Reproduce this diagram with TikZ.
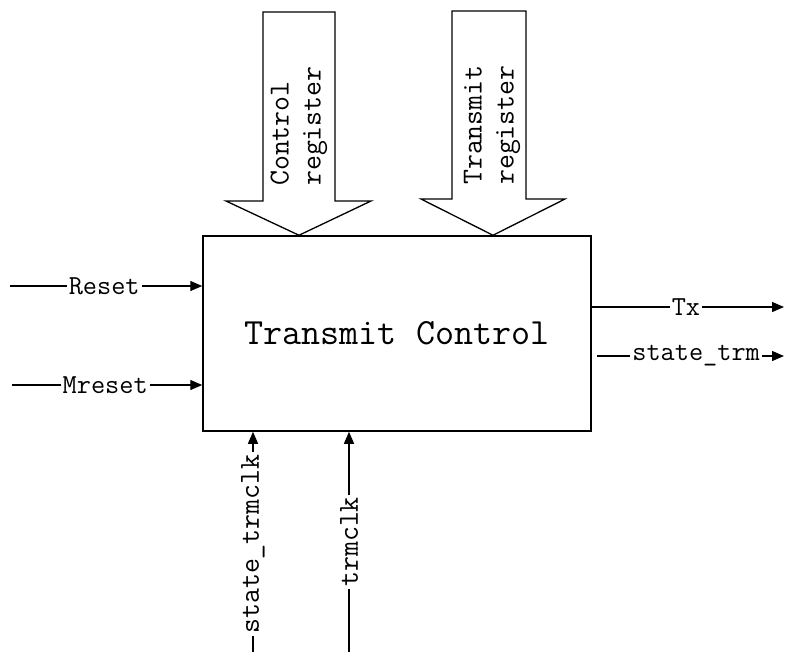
\documentclass[tikz,border=0pt]{standalone}
\usetikzlibrary{arrows.meta}
\newcommand\lblfont{\fontsize{27.5}{30}\selectfont\ttfamily}
\newcommand\vlblfont{\fontsize{29}{32}\selectfont\ttfamily}
\newcommand\mainfont{\fontsize{37}{40}\selectfont\ttfamily}
\begin{document}
\begin{tikzpicture}[x=1pt,y=-1pt,
  sig/.style={line width=1.3pt,-{Triangle[length=12pt,width=10pt]}},
  lbl/.style={fill=white,inner xsep=2pt,inner ysep=1pt,font=\lblfont},
  vlbl/.style={fill=white,inner xsep=2pt,inner ysep=1pt,rotate=90,font=\vlblfont},
  bigarrow/.style={line width=1.3pt,fill=white,line join=miter},
  boxstyle/.style={draw,line width=1.5pt,minimum width=388pt,minimum height=195pt,inner sep=0pt,font=\mainfont}]
\useasboundingbox (0,0) rectangle (793,657);
% main block
\node[boxstyle] (tc) at (397,333.5) {Transmit Control};
% big register arrows
\coordinate (a1) at (299,12);
\coordinate (a2) at (493,11);
\path[bigarrow,draw] (263,12) -- (335,12) -- (335,201) -- (371,201) -- (a1 |- tc.north) -- (226,201) -- (263,201) -- cycle;
\path[bigarrow,draw] (452,11) -- (526,11) -- (526,199) -- (565,199) -- (a2 |- tc.north) -- (421,199) -- (452,199) -- cycle;
\node[rotate=90,anchor=west,align=left,inner sep=0pt,font=\vlblfont] (cr) at (299,186) {Control\\register};
\node[rotate=90,anchor=west,align=left,inner sep=0pt,font=\vlblfont] (trr) at (492,185) {Transmit\\register};
% inputs left
\coordinate (rs0) at (10,286);
\coordinate (mr0) at (12,385);
\draw[sig] (rs0) -- (rs0 -| tc.west) node[lbl,pos=0.49] (rs) {Reset};
\draw[sig] (mr0) -- (mr0 -| tc.west) node[lbl,pos=0.49] (mr) {Mreset};
% outputs right
\coordinate (tx1) at (784,307);
\coordinate (st0) at (597,356);
\coordinate (st1) at (784,356);
\draw[sig] (tx1 -| tc.east) -- (tx1) node[lbl,pos=0.49] (tx) {Tx};
\draw[sig] (st0) -- (st1) node[lbl,pos=0.53] (st) {state\_trm};
% inputs bottom
\coordinate (sc0) at (253,652);
\coordinate (tk0) at (349,652);
\draw[sig] (sc0) -- (sc0 |- tc.south) node[vlbl,pos=0.49] (sc) {state\_trmclk};
\draw[sig] (tk0) -- (tk0 |- tc.south) node[vlbl,pos=0.5] (tk) {trmclk};
\end{tikzpicture}
\end{document}
